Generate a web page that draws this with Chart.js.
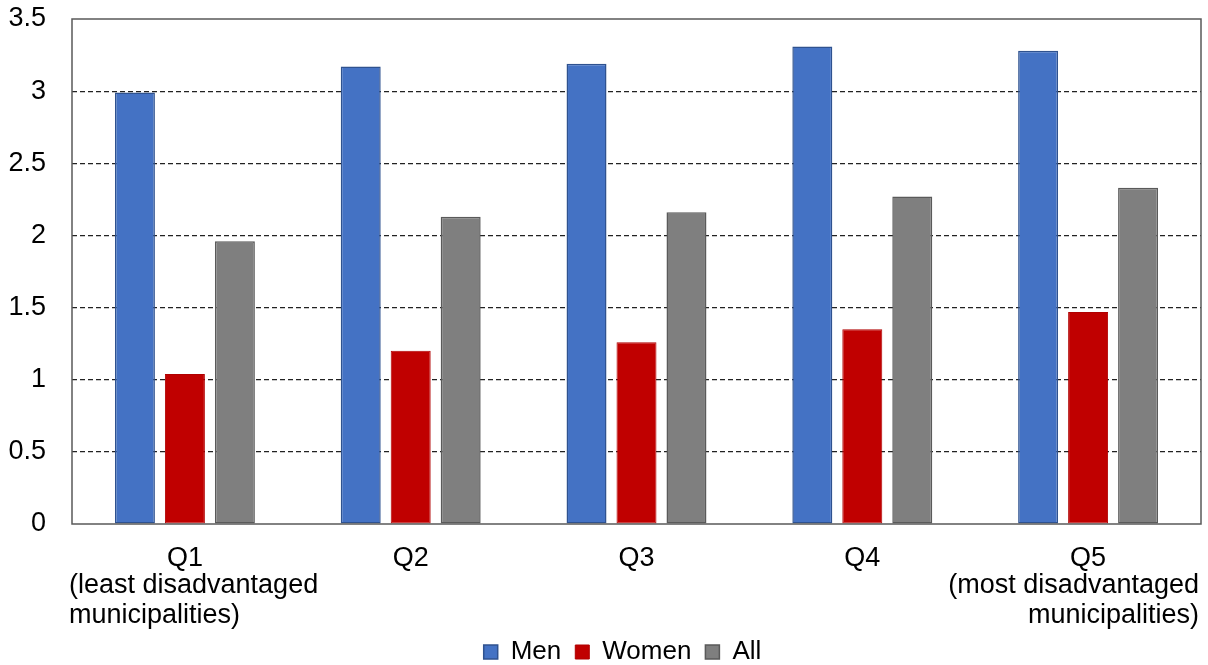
<!DOCTYPE html>
<html>
<head>
<meta charset="utf-8">
<script src="https://cdn.jsdelivr.net/npm/chart.js@4/dist/chart.umd.min.js"></script>
<style>
  html, body { margin: 0; padding: 0; background: #fff; }
  #wrap { width: 1208px; height: 665px; position: relative; }
</style>
</head>
<body>
<div id="wrap"><canvas id="chart"></canvas></div>
<script>
const categories = ["Q1", "Q2", "Q3", "Q4", "Q5"];
// extra label lines under the quintile name
const subLabels = [
  ["(least disadvantaged", "municipalities)"],
  [],
  [],
  [],
  ["(most disadvantaged", "municipalities)"]
];
const men = [2.99, 3.17, 3.19, 3.31, 3.28];
const women = [1.04, 1.2, 1.26, 1.35, 1.47];
const all = [1.96, 2.13, 2.16, 2.27, 2.33];
const yTicks = [0, 0.5, 1, 1.5, 2, 2.5, 3, 3.5];

const FONT = "'Liberation Sans', Arial, sans-serif";
const FS = 27;

// draws the solid plot frame and the second/third lines of the x labels
const extras = {
  id: "extras",
  afterLayout(chart) {
    // legend sits a bit lower and right of the canvas centre in the original
    const lg = chart.legend;
    lg.left += 22; lg.right += 22;
    lg.top += 10; lg.bottom += 10;
  },
  afterDraw(chart) {
    const { ctx, chartArea: a, scales } = chart;
    ctx.save();
    ctx.strokeStyle = "#595959";
    ctx.lineWidth = 1.5;
    ctx.strokeRect(a.left, a.top, a.right - a.left, a.bottom - a.top);

    ctx.fillStyle = "#000";
    ctx.font = FS + "px " + FONT;
    ctx.textBaseline = "middle";
    const y0 = a.bottom + 62;
    subLabels.forEach((lines, i) => {
      if (!lines.length) return;
      let x, align;
      if (i === 0) { x = a.left - 3; align = "left"; }
      else if (i === subLabels.length - 1) { x = a.right - 2; align = "right"; }
      else { x = scales.x.getPixelForValue(i); align = "center"; }
      ctx.textAlign = align;
      lines.forEach((t, j) => ctx.fillText(t, x, y0 + j * 30));
    });
    ctx.restore();
  }
};

new Chart(document.getElementById("chart"), {
  type: "bar",
  data: {
    labels: categories,
    datasets: [
      { label: "Men", data: men, backgroundColor: "#4472C4", borderColor: "#2F528F", borderWidth: 1.5 },
      { label: "Women", data: women, backgroundColor: "#C00000", borderColor: "#B00000", borderWidth: 1 },
      { label: "All", data: all, backgroundColor: "#7F7F7F", borderColor: "#5A5A5A", borderWidth: 1.5 }
    ]
  },
  options: {
    responsive: true,
    maintainAspectRatio: false,
    animation: false,
    layout: { padding: { top: 19, right: 7, left: 0, bottom: 0 } },
    datasets: {
      bar: { categoryPercentage: 0.664, barPercentage: 0.8, borderSkipped: false }
    },
    scales: {
      x: {
        grid: { display: false },
        border: { display: false },
        ticks: { color: "#000", font: { family: FONT, size: FS }, padding: 10, maxRotation: 0 },
        afterFit(scale) { scale.height = 91; }
      },
      y: {
        min: 0,
        max: 3.5,
        afterBuildTicks(scale) { scale.ticks = yTicks.map(v => ({ value: v })); },
        grid: {
          color: c => (c.tick.value === 0 || c.tick.value === 3.5) ? "rgba(0,0,0,0)" : "#222",
          lineWidth: 1.2,
          drawTicks: false
        },
        border: { display: false, dash: [5, 3] },
        ticks: {
          color: "#000",
          font: { family: FONT, size: FS },
          padding: 26,
          callback: v => String(v)
        },
        afterFit(scale) {
          scale.width = 72;
          scale.paddingTop = 0;
          scale.paddingBottom = 0;
        }
      }
    },
    plugins: {
      legend: {
        position: "bottom",
        labels: {
          color: "#000",
          font: { family: FONT, size: FS - 1 },
          boxWidth: 14,
          boxHeight: 14,
          padding: 14
        }
      },
      tooltip: { enabled: false }
    }
  },
  plugins: [extras]
});
</script>
</body>
</html>
